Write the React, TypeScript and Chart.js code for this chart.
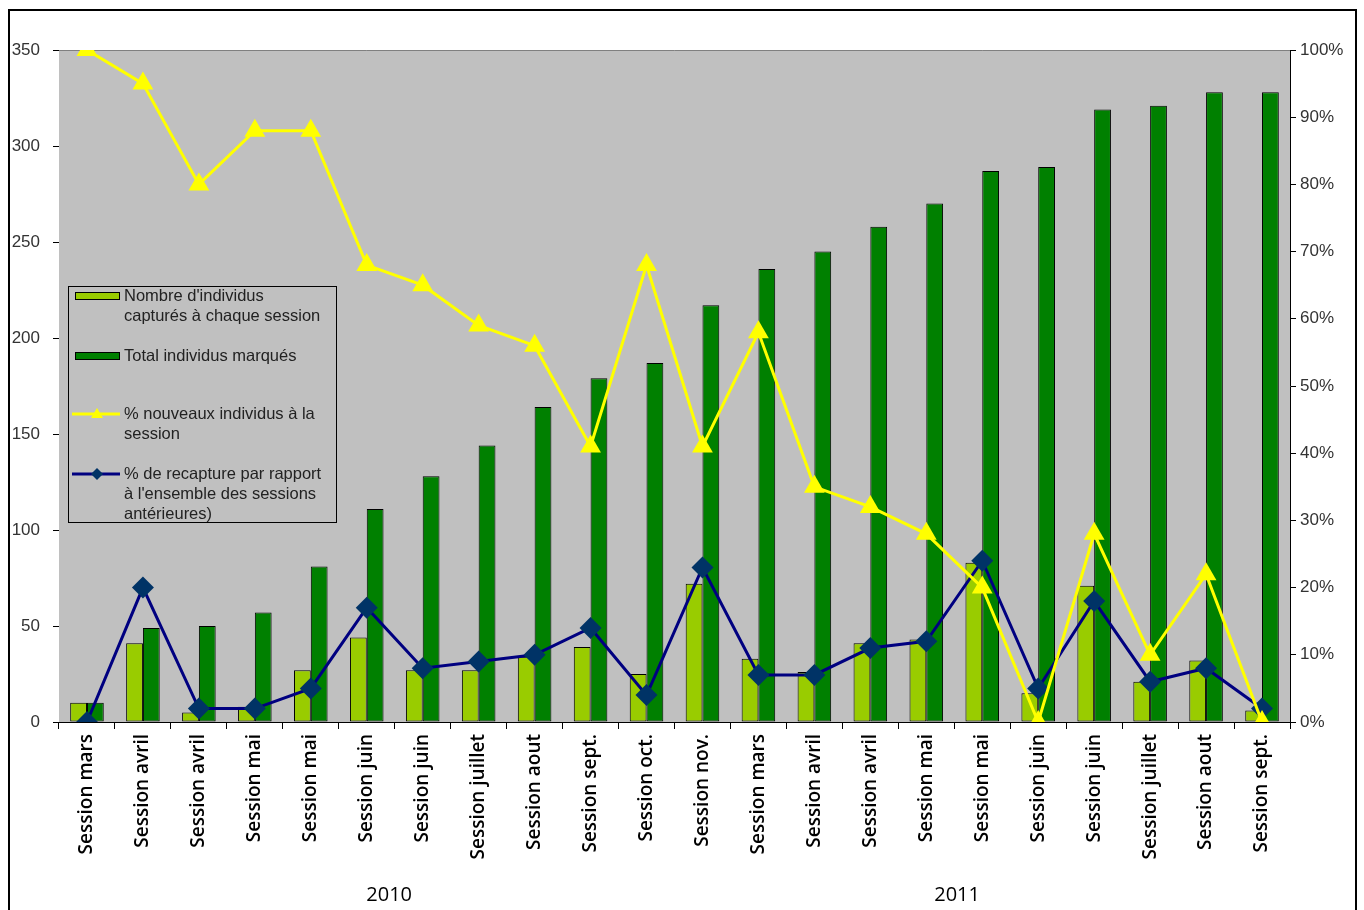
import React, { useEffect, useRef } from "react";
import { Chart, registerables } from "chart.js";

Chart.register(...registerables);

const categories = [
  "Session mars", "Session avril", "Session avril", "Session mai", "Session mai",
  "Session juin", "Session juin", "Session juillet", "Session aout", "Session sept.",
  "Session oct.", "Session nov.", "Session mars", "Session avril", "Session avril",
  "Session mai", "Session mai", "Session juin", "Session juin", "Session juillet",
  "Session aout", "Session sept.",
];

const captured = [10, 41, 5, 8, 27, 44, 27, 27, 34, 39, 25, 72, 33, 26, 41, 43, 83, 15, 71, 21, 32, 6];
const totalMarked = [10, 49, 50, 57, 81, 111, 128, 144, 164, 179, 187, 217, 236, 245, 258, 270, 287, 289, 319, 321, 328, 328];
const pctNew = [100, 95, 80, 88, 88, 68, 65, 59, 56, 41, 68, 41, 58, 35, 32, 28, 20, 0, 28, 10, 22, 0];
const pctRecapture = [0, 20, 2, 2, 5, 17, 8, 9, 10, 14, 4, 23, 7, 7, 11, 12, 24, 5, 18, 6, 8, 2];

const leftTicks = [0, 50, 100, 150, 200, 250, 300, 350];
const years = ["2010", "2011"];
const yearAnchors = [5.4, 15.55];

const legendItems = [
  { kind: "bar", color: "#99CC00", lines: ["Nombre d'individus", "capturés à chaque session"] },
  { kind: "bar", color: "#008000", lines: ["Total individus marqués"] },
  { kind: "tri", color: "#FFFF00", lines: ["% nouveaux individus à la", "session"] },
  { kind: "dia", color: "#000080", marker: "#003366", lines: ["% de recapture par rapport", "à l'ensemble des sessions", "antérieures)"] },
];

const decorPlugin = {
  id: "decor",
  beforeDatasetsDraw(chart: any) {
    const { ctx, chartArea } = chart;
    ctx.save();
    ctx.fillStyle = "#C0C0C0";
    ctx.fillRect(chartArea.left, chartArea.top, chartArea.right - chartArea.left, chartArea.bottom - chartArea.top);
    ctx.strokeStyle = "#808080";
    ctx.lineWidth = 1;
    ctx.beginPath();
    ctx.moveTo(chartArea.left, chartArea.top + 0.5);
    ctx.lineTo(chartArea.right, chartArea.top + 0.5);
    ctx.stroke();
    ctx.restore();
  },
  afterDraw(chart: any) {
    const { ctx, chartArea } = chart;
    const catW = (chartArea.right - chartArea.left) / categories.length;
    ctx.save();
    ctx.strokeStyle = "#000";
    ctx.lineWidth = 2;
    ctx.strokeRect(9, 10, 1347, 920);
    ctx.fillStyle = "#000";
    ctx.font = "20px 'Open Sans', sans-serif";
    ctx.textAlign = "center";
    ctx.textBaseline = "middle";
    years.forEach((y, i) => {
      const cx = chartArea.left + (yearAnchors[i] + 0.5) * catW;
      ctx.fillText(y, cx, 895);
    });
    const lx = 68, ly = 286, lw = 268, lh = 236;
    ctx.lineWidth = 1;
    ctx.strokeStyle = "#000";
    ctx.strokeRect(lx + 0.5, ly + 0.5, lw, lh);
    ctx.font = "16.5px 'Liberation Sans', Arial, sans-serif";
    ctx.textAlign = "left";
    const rowY = [296, 356, 414, 474];
    legendItems.forEach((it: any, i) => {
      const y = rowY[i];
      if (it.kind === "bar") {
        ctx.fillStyle = it.color;
        ctx.fillRect(75, y - 4, 45, 8);
        ctx.strokeStyle = "#000";
        ctx.lineWidth = 1;
        ctx.strokeRect(75.5, y - 3.5, 44, 7);
      } else {
        ctx.strokeStyle = it.color;
        ctx.lineWidth = 3;
        ctx.beginPath();
        ctx.moveTo(72, y);
        ctx.lineTo(120, y);
        ctx.stroke();
        ctx.fillStyle = it.kind === "tri" ? it.color : it.marker;
        ctx.beginPath();
        if (it.kind === "tri") {
          ctx.moveTo(97, y - 6);
          ctx.lineTo(103, y + 4);
          ctx.lineTo(91, y + 4);
        } else {
          ctx.moveTo(97, y - 6);
          ctx.lineTo(103, y);
          ctx.lineTo(97, y + 6);
          ctx.lineTo(91, y);
        }
        ctx.closePath();
        ctx.fill();
      }
      ctx.fillStyle = "#222";
      it.lines.forEach((t: string, k: number) => {
        ctx.fillText(t, 124, y + k * 20);
      });
    });
    ctx.restore();
  },
};

export default function App() {
  const ref = useRef<HTMLCanvasElement>(null);
  useEffect(() => {
    if (!ref.current) return;
    const chart = new Chart(ref.current, {
      type: "bar",
      data: {
        labels: categories,
        datasets: [
          {
            type: "line",
            label: "% nouveaux individus à la session",
            data: pctNew,
            yAxisID: "y1",
            borderColor: "#FFFF00",
            backgroundColor: "#FFFF00",
            borderWidth: 3,
            pointStyle: "triangle",
            pointRadius: 12,
            pointBorderWidth: 0,
            tension: 0,
            order: 0,
          } as any,
          {
            type: "line",
            label: "% de recapture par rapport à l'ensemble des sessions antérieures)",
            data: pctRecapture,
            yAxisID: "y1",
            borderColor: "#000080",
            backgroundColor: "#003366",
            pointBackgroundColor: "#003366",
            borderWidth: 3,
            pointStyle: "rectRot",
            pointRadius: 11,
            pointBorderWidth: 0,
            tension: 0,
            order: 1,
          } as any,
          {
            label: "Nombre d'individus capturés à chaque session",
            data: captured,
            yAxisID: "y",
            backgroundColor: "#99CC00",
            borderColor: "#000",
            borderWidth: 1,
            borderSkipped: false,
            categoryPercentage: 0.6,
            barPercentage: 1,
            order: 2,
          },
          {
            label: "Total individus marqués",
            data: totalMarked,
            yAxisID: "y",
            backgroundColor: "#008000",
            borderColor: "#000",
            borderWidth: 1,
            borderSkipped: false,
            categoryPercentage: 0.6,
            barPercentage: 1,
            order: 2,
          },
        ],
      },
      options: {
        animation: false,
        responsive: false,
        layout: { padding: { top: 50, left: 0, right: 0, bottom: 0 } },
        plugins: { legend: { display: false }, tooltip: { enabled: false } },
        scales: {
          x: {
            offset: true,
            grid: { offset: true, drawOnChartArea: false, drawTicks: true, tickLength: 7, color: "#000" },
            border: { display: true, color: "#000", width: 1 },
            ticks: {
              minRotation: 90,
              maxRotation: 90,
              autoSkip: false,
              padding: 5,
              color: "#000",
              font: { family: "'Open Sans', sans-serif", size: 19, weight: "600" },
            },
            afterFit: (s: any) => { s.height = 188; },
          },
          y: {
            position: "left",
            min: 0,
            max: 350,
            afterBuildTicks: (s: any) => { s.ticks = leftTicks.map((v) => ({ value: v })); },
            grid: { drawOnChartArea: false, drawTicks: true, tickLength: 6, color: "#000" },
            border: { display: true, color: "#000", width: 1 },
            ticks: {
              padding: 13,
              color: "#333",
              font: { family: "'Liberation Sans', Arial, sans-serif", size: 17 },
            },
            afterFit: (s: any) => { s.width = 59; },
          },
          y1: {
            position: "right",
            min: 0,
            max: 100,
            grid: { drawOnChartArea: false, drawTicks: true, tickLength: 6, color: "#000" },
            border: { display: true, color: "#000", width: 1 },
            ticks: {
              stepSize: 10,
              padding: 4,
              color: "#333",
              font: { family: "'Liberation Sans', Arial, sans-serif", size: 17 },
              callback: (v: any) => `${v}%`,
            },
            afterFit: (s: any) => { s.width = 74; },
          },
        },
      },
      plugins: [decorPlugin],
    });
    return () => chart.destroy();
  }, []);
  return (
    <div style={{ position: "absolute", left: 0, top: 0, width: 1364, height: 910, background: "#fff" }}>
      <canvas ref={ref} width={1364} height={910} />
    </div>
  );
}
